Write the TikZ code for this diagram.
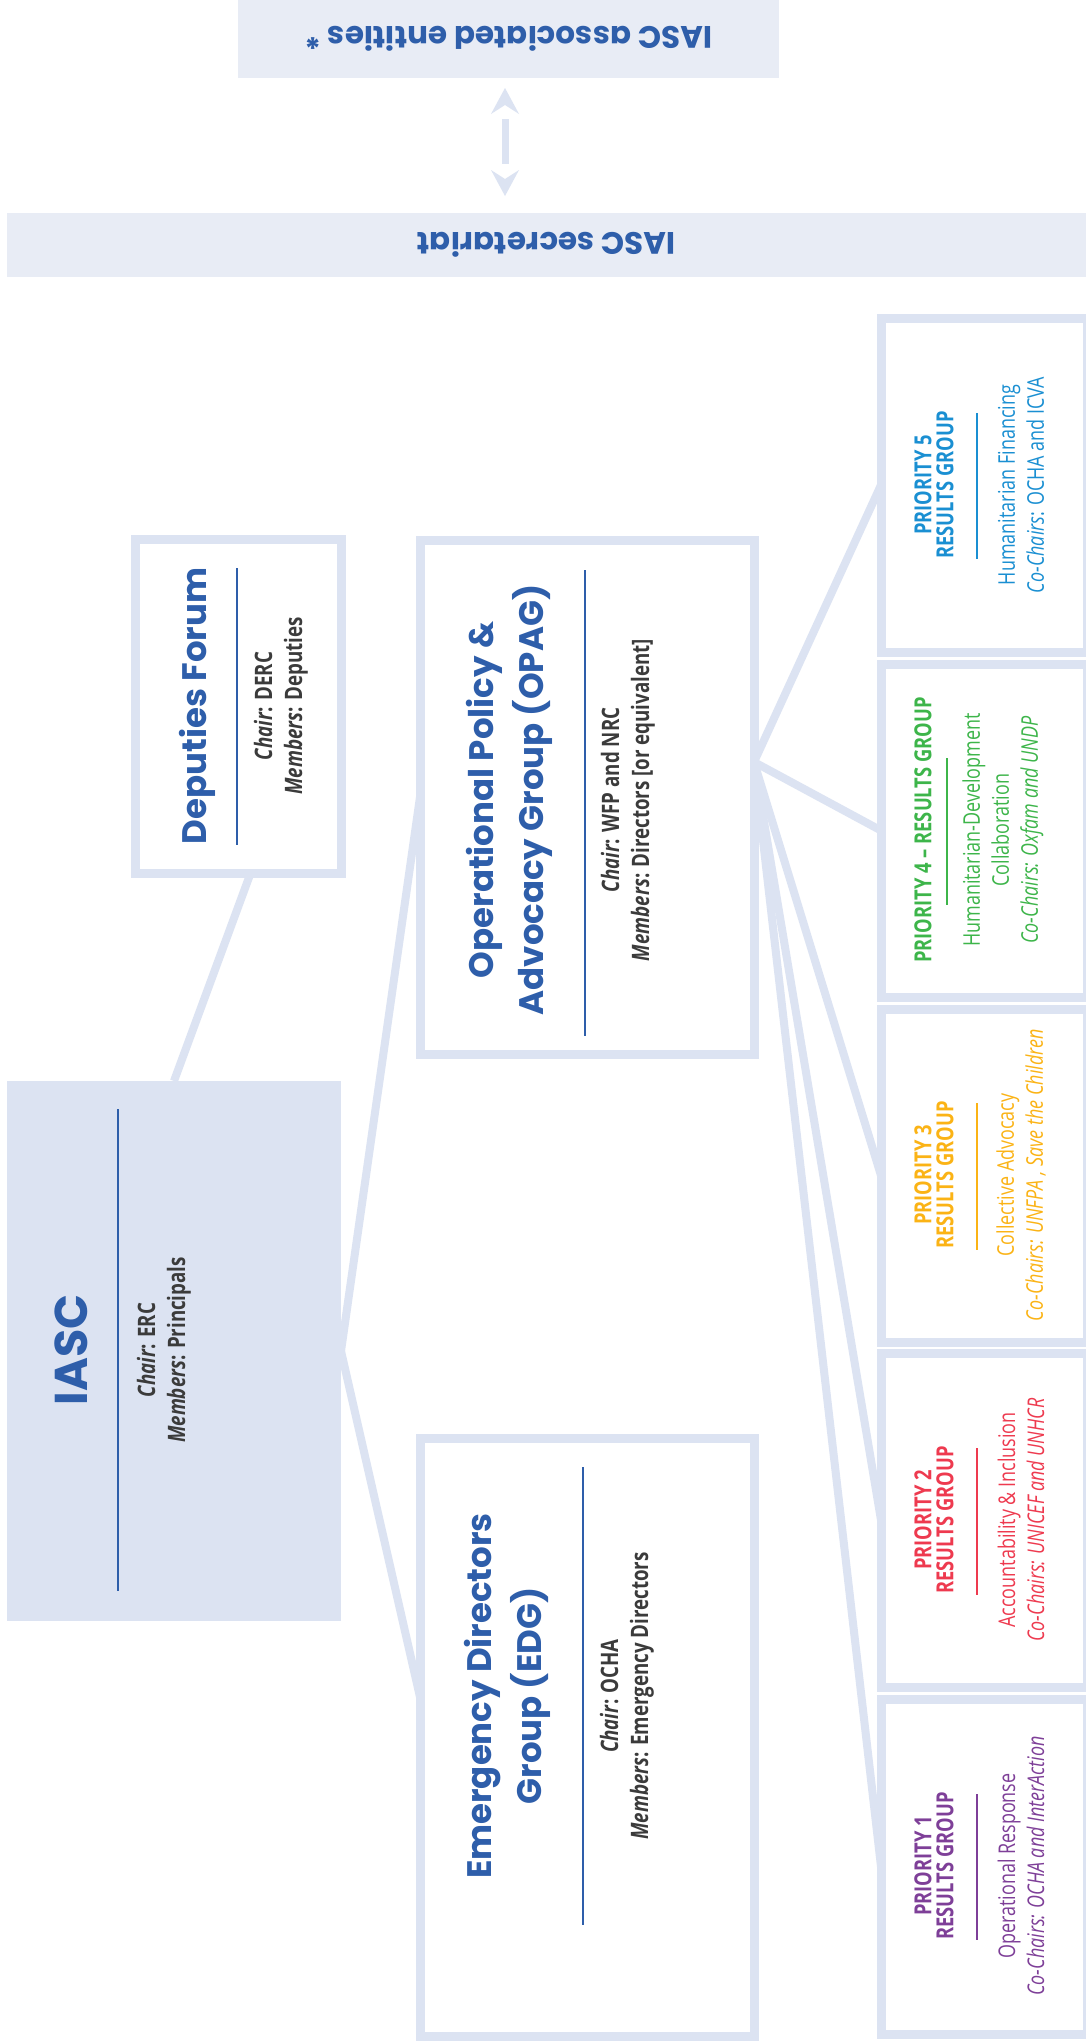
\documentclass[tikz,border=0pt]{standalone}
\usepackage{fontspec}
\usetikzlibrary{arrows.meta,calc}
\newfontfamily\headfont{Poppins}
\newfontfamily\condfont{Open Sans}[FakeStretch=0.78]
\definecolor{boxc}{HTML}{DCE3F2}
\definecolor{bannerc}{HTML}{E8ECF5}
\definecolor{titleblue}{HTML}{2E5EAA}
\definecolor{infogray}{HTML}{3B3B3B}
\definecolor{pone}{HTML}{7E3F98}
\definecolor{ptwo}{HTML}{EE3A4F}
\definecolor{pthree}{HTML}{FBB315}
\definecolor{pfour}{HTML}{3DB54A}
\definecolor{pfive}{HTML}{1A8FD2}
\begin{document}
\begin{tikzpicture}[x=1pt,y=-1pt,
  box/.style={draw=boxc, line width=9pt, fill=white, inner sep=0pt, outer sep=0pt},
  banner/.style={fill=bannerc, inner sep=0pt, outer sep=0pt, text=titleblue,
     font={\headfont\bfseries\fontsize{31}{36}\selectfont}},
  conn/.style={draw=boxc, line width=8pt},
  head/.style={text=titleblue, align=center, inner sep=0pt,
     font={\headfont\bfseries\fontsize{34}{50}\selectfont}},
  info/.style={text=infogray, align=center, inner sep=0pt,
     font={\condfont\bfseries\fontsize{24}{30}\selectfont}},
  rule/.style={draw=titleblue, line width=2.8pt},
  ptitle/.style={align=center, inner sep=0pt,
     font={\condfont\bfseries\fontsize{23.5}{22}\selectfont}},
  psub/.style={align=center, inner sep=0pt,
     font={\condfont\fontsize{23}{29}\selectfont}},
  prule/.style={line width=2.8pt}
]
\useasboundingbox (0,0) rectangle (1086,2042);
\fill[white] (0,0) rectangle (1086,2042);

% ---- banners ----
\node[banner, minimum width=541pt, minimum height=78pt, rotate=180] (b1) at (508.5,39) {IASC associated entities *};
\node[banner, minimum width=1079pt, minimum height=64pt, rotate=180] (b2) at (546.5,245) {IASC secretariat};

% connectors (behind boxes)
\coordinate (depfoot) at (251,872);
\coordinate (opagout) at (754,762);
\coordinate (edgin) at (420,1697);
\draw[conn] (174,1081) coordinate (iasctop) -- (depfoot);
\draw[conn] (341,1351) coordinate (iascright) -- (420,797) coordinate (opagin);
\draw[conn] (iascright) -- (edgin);
\foreach \y/\n in {485/p5, 830.5/p4, 1175.5/p3, 1520/p2, 1866.5/p1}
  \draw[conn] (opagout) -- (881,\y) coordinate (\n in);

% double arrow
\coordinate (b1foot) at (505,88);
\coordinate (b2top) at (505,196);
\fill[boxc] (b1foot) -- ++(14,26) -- ++(-14,-9) -- ++(-14,9) -- cycle;
\fill[boxc] (b2top) -- ++(14,-26) -- ++(-14,9) -- ++(-14,-9) -- cycle;
\draw[draw=boxc, line width=7pt] ($(b1foot)+(0,31)$) -- ($(b2top)+(0,-32)$);

\node[box, minimum width=206pt, minimum height=334pt] (dep) at (238,706) {};
\node[box, minimum width=334pt, minimum height=514pt] (opag) at (587,797) {};
\node[box, minimum width=334pt, minimum height=598pt] (edg) at (587,1737) {};
\node[fill=boxc, inner sep=0pt, minimum width=334pt, minimum height=540pt] (iasc) at (174,1351) {};
\node[box, minimum width=206pt, minimum height=334pt] (p5) at (984,485) {};
\node[box, minimum width=206pt, minimum height=333pt] (p4) at (984,830.5) {};
\node[box, minimum width=206pt, minimum height=333pt] (p3) at (984,1175.5) {};
\node[box, minimum width=206pt, minimum height=334pt] (p2) at (984,1520) {};
\node[box, minimum width=206pt, minimum height=335pt] (p1) at (984,1866.5) {};

% ---- IASC ----
\node[head, rotate=90, font={\headfont\bfseries\fontsize{46}{50}\selectfont}] (iasct) at (71,1350) {IASC};
\draw[rule] (118,1109) -- (118,1591);
\node[info, rotate=90] (iasci) at (164,1350) {\textit{Chair}: ERC\\\textit{Members}: Principals};

% ---- Deputies ----
\node[head, rotate=90] (dept) at (197,706) {Deputies Forum};
\draw[rule] (237,568) -- (237,845);
\node[info, rotate=90] (depi) at (281,706) {\textit{Chair}: DERC\\\textit{Members}: Deputies};

% ---- OPAG ----
\node[head, rotate=90] (opagt) at (509,800) {Operational Policy \&\\Advocacy Group (OPAG)};
\draw[rule] (585,570) -- (585,1036);
\node[info, rotate=90] (opagi) at (628,800) {\textit{Chair}: WFP and NRC\\\textit{Members}: Directors [or equivalent]};

% ---- EDG ----
\node[head, rotate=90] (edgt) at (507,1696) {Emergency Directors\\Group (EDG)};
\draw[rule] (583,1467) -- (583,1925);
\node[info, rotate=90] (edgi) at (627,1696) {\textit{Chair}: OCHA\\\textit{Members}: Emergency Directors};

% ---- Priority 5 ----
\node[ptitle, text=pfive, rotate=90] (p5t) at (934,485) {PRIORITY 5\\RESULTS GROUP};
\draw[prule, draw=pfive] (977,413) -- (977,559);
\node[psub, text=pfive, rotate=90] (p5s) at (1021,485) {Humanitarian Financing\\\textit{Co-Chairs}: OCHA and ICVA};

% ---- Priority 4 ----
\node[ptitle, text=pfour, rotate=90] (p4t) at (923,830) {PRIORITY 4 – RESULTS GROUP};
\draw[prule, draw=pfour] (947,758) -- (947,905);
\node[psub, text=pfour, rotate=90] (p4s) at (1003,830) {Humanitarian-Development\\Collaboration\\\textit{Co-Chairs: Oxfam and UNDP}};

% ---- Priority 3 ----
\node[ptitle, text=pthree, rotate=90] (p3t) at (934,1175) {PRIORITY 3\\RESULTS GROUP};
\draw[prule, draw=pthree] (977,1103) -- (977,1250);
\node[psub, text=pthree, rotate=90] (p3s) at (1021,1175) {Collective Advocacy\\\textit{Co-Chairs: UNFPA , Save the Children}};

% ---- Priority 2 ----
\node[ptitle, text=ptwo, rotate=90] (p2t) at (934,1520) {PRIORITY 2\\RESULTS GROUP};
\draw[prule, draw=ptwo] (977,1448) -- (977,1595);
\node[psub, text=ptwo, rotate=90] (p2s) at (1021,1520) {Accountability \& Inclusion\\\textit{Co-Chairs: UNICEF and UNHCR}};

% ---- Priority 1 ----
\node[ptitle, text=pone, rotate=90] (p1t) at (934,1866) {PRIORITY 1\\RESULTS GROUP};
\draw[prule, draw=pone] (977,1794) -- (977,1940);
\node[psub, text=pone, rotate=90] (p1s) at (1021,1866) {Operational Response\\\textit{Co-Chairs: OCHA and InterAction}};
\end{tikzpicture}
\end{document}
